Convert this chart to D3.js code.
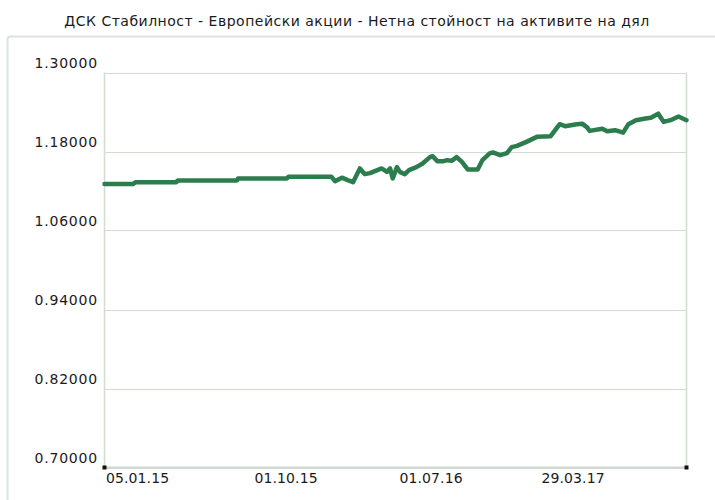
<!DOCTYPE html>
<html>
<head>
<meta charset="utf-8">
<script src="https://cdn.jsdelivr.net/npm/d3@7/dist/d3.min.js"></script>
<style>
  html, body { margin: 0; padding: 0; background: #fff; }
  svg { display: block; }
  text { font-family: "DejaVu Sans", Verdana, sans-serif; fill: #1a1a1a; }
</style>
</head>
<body>
<svg id="chart" width="715" height="500"></svg>
<script>
const chartTitle = "ДСК Стабилност - Европейски акции - Нетна стойност на активите на дял";

const dates = [
  "2015-01-05","2015-02-26","2015-03-02","2015-05-15","2015-05-18","2015-09-02","2015-09-04",
  "2015-12-04","2015-12-07","2016-02-26","2016-03-04","2016-03-17","2016-03-28","2016-04-07",
  "2016-04-20","2016-04-29","2016-05-09","2016-05-23","2016-05-31","2016-06-10","2016-06-16",
  "2016-06-21","2016-06-29","2016-07-05","2016-07-14","2016-07-22","2016-08-05","2016-08-17",
  "2016-08-31","2016-09-05","2016-09-14","2016-09-26","2016-10-03","2016-10-12","2016-10-21",
  "2016-10-31","2016-11-11","2016-11-30","2016-12-09","2016-12-23","2016-12-29","2017-01-12",
  "2017-01-25","2017-02-03","2017-02-13","2017-03-03","2017-03-23","2017-04-18","2017-04-24",
  "2017-05-05","2017-05-15","2017-06-06","2017-06-16","2017-06-26","2017-06-30","2017-07-24",
  "2017-08-02","2017-08-17","2017-09-01","2017-09-11","2017-09-25","2017-10-13","2017-10-23",
  "2017-11-06","2017-11-16","2017-11-29","2017-12-14","2017-12-29"
];

const navValues = [
  1.13073,1.13073,1.13346,1.13346,1.13604,1.13604,1.13908,
  1.13908,1.14181,1.14181,1.13498,1.14029,1.13649,1.13346,
  1.15426,1.14560,1.14712,1.15168,1.15426,1.14910,1.15426,
  1.13908,1.15623,1.14864,1.14560,1.15168,1.15623,1.16185,
  1.17141,1.17293,1.16534,1.16534,1.16686,1.16610,1.17141,
  1.16428,1.15274,1.15274,1.16686,1.17703,1.17855,1.17445,
  1.17749,1.18659,1.18857,1.19464,1.20223,1.20329,1.20982,
  1.22151,1.21848,1.22151,1.22227,1.21620,1.21134,1.21468,
  1.21088,1.21240,1.20861,1.22151,1.22758,1.23017,1.23138,
  1.23745,1.22500,1.22758,1.23320,1.22758
];

const xTickLabels = ["05.01.15","01.10.15","01.07.16","29.03.17"];
const xEndDate = "2017-12-29";
const yTicks = [0.70,0.82,0.94,1.06,1.18,1.30];

const parse = d3.timeParse("%Y-%m-%d");
const parseTick = d3.timeParse("%d.%m.%y");
const fmtTick = d3.timeFormat("%d.%m.%y");
const data = dates.map((d,i) => ({date: parse(d), value: navValues[i]}));
const tickDates = xTickLabels.map(parseTick);

const svg = d3.select("#chart");
const pL = 104.5, pR = 686.5, pT = 72.5, pB = 467.5;

// outer frame
svg.append("rect")
  .attr("x", 7.5).attr("y", 36.5).attr("width", 740).attr("height", 500)
  .attr("rx", 3).attr("fill", "none").attr("stroke", "#dbe3db").attr("stroke-width", 2);

svg.append("text")
  .attr("x", 357).attr("y", 26)
  .attr("text-anchor", "middle").attr("font-size", 14).attr("letter-spacing", 0.5)
  .text(chartTitle);

// x scale: piecewise-linear through labelled dates (category-like axis)
const x = d3.scaleTime()
  .domain([...tickDates, parse(xEndDate)])
  .range([pL, 253, 398, 540, pR]);
const y = d3.scaleLinear().domain([0.70, 1.30]).range([pB, pT]);

// grid
svg.append("g").selectAll("line").data(yTicks).join("line")
  .attr("x1", pL).attr("x2", pR)
  .attr("y1", d => Math.round(y(d)) + 0.5).attr("y2", d => Math.round(y(d)) + 0.5)
  .attr("stroke", "#d3dcd3").attr("stroke-width", 1);

// plot frame
svg.append("line").attr("x1", pL).attr("x2", pL).attr("y1", pT).attr("y2", pB)
  .attr("stroke", "#d3dcd3").attr("stroke-width", 1.5);
svg.append("line").attr("x1", pR).attr("x2", pR).attr("y1", pT).attr("y2", pB)
  .attr("stroke", "#d3dcd3").attr("stroke-width", 1.5);
svg.append("line").attr("x1", pL).attr("x2", pR).attr("y1", pB).attr("y2", pB)
  .attr("stroke", "#cfd8cf").attr("stroke-width", 2);

// y labels
const yAxis = d3.axisLeft(y).tickValues(yTicks).tickFormat(d3.format(".5f")).tickSize(0).tickPadding(0);
const gy = svg.append("g").attr("transform", `translate(98,0)`).call(yAxis);
gy.select(".domain").remove();
gy.selectAll("text").attr("font-size", 14).attr("letter-spacing", 0.8).attr("dy", "-0.35em")
  .attr("font-family", "DejaVu Sans").attr("fill", "#1a1a1a");

// x labels
const xAxis = d3.axisBottom(x).tickValues(tickDates).tickFormat(fmtTick).tickSize(0).tickPadding(0);
const gx = svg.append("g").attr("transform", `translate(0,${pB})`).call(xAxis);
gx.select(".domain").remove();
gx.selectAll("text").attr("font-size", 14).attr("letter-spacing", 0.1).attr("text-anchor", "start").attr("dx", 1).attr("dy", "1.1em")
  .attr("font-family", "DejaVu Sans").attr("fill", "#1a1a1a");

// end dots
const xd = x.domain();
svg.append("g").selectAll("rect").data([xd[0], xd[xd.length-1]]).join("rect")
  .attr("x", d => x(d) - 2).attr("y", pB - 2).attr("width", 4).attr("height", 4).attr("fill", "#111");

// line
const line = d3.line().x(d => x(d.date)).y(d => y(d.value));
svg.append("path").datum(data)
  .attr("d", line).attr("fill", "none")
  .attr("stroke", "#2c7d4e").attr("stroke-width", 4.5)
  .attr("stroke-linejoin", "round").attr("stroke-linecap", "round");
</script>
</body>
</html>
